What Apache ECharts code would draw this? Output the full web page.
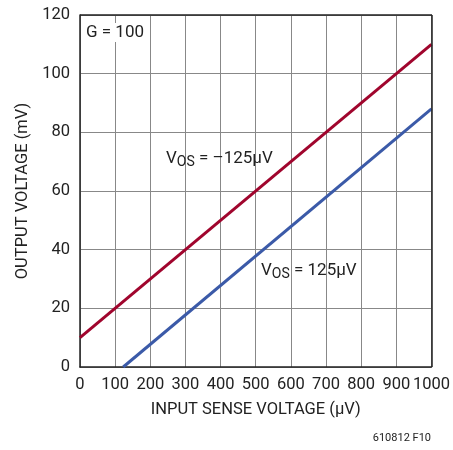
<!DOCTYPE html>
<html><head><meta charset="utf-8">
<script src="https://cdn.jsdelivr.net/npm/echarts@6/dist/echarts.min.js"></script>
<style>html,body{margin:0;padding:0;background:#fff}#c{width:453px;height:450px}</style>
</head><body><div id="c"></div>
<script>
const xTicks = [0,100,200,300,400,500,600,700,800,900,1000];
const yTicks = [0,20,40,60,80,100,120];
const redLine = [[0,10],[1000,110]];
const blueLine = [[123,0],[1000,88]];
const F = '"Liberation Sans Narrow","Roboto",sans-serif';
const chart = echarts.init(document.getElementById('c'));
chart.setOption({
  animation:false,
  grid:{left:80,right:21,top:15,bottom:83},
  xAxis:{type:'value',min:0,max:1000,interval:100,
    name:'INPUT SENSE VOLTAGE (µV)',nameLocation:'middle',nameGap:34,
    nameTextStyle:{fontFamily:F,fontSize:16.5,color:'#222'},
    axisLine:{show:true,lineStyle:{color:'#222',width:1.5}},
    axisTick:{show:false},
    axisLabel:{fontFamily:F,fontSize:16.5,color:'#222',margin:9,formatter:v=>String(v)},
    splitLine:{show:true,lineStyle:{color:'#888',width:1}}},
  yAxis:{type:'value',min:0,max:120,interval:20,
    name:'OUTPUT VOLTAGE (mV)',nameLocation:'middle',nameGap:46,
    nameTextStyle:{fontFamily:F,fontSize:16.5,color:'#222'},
    axisLine:{show:true,lineStyle:{color:'#222',width:1.5}},
    axisTick:{show:false},
    axisLabel:{fontFamily:F,fontSize:16.5,color:'#222',margin:10},
    splitLine:{show:true,lineStyle:{color:'#888',width:1}}},
  graphic:[
    {type:'rect',shape:{x:432,y:15,width:0,height:352},style:{stroke:'#222',lineWidth:1.5,fill:null},z:10},
    {type:'rect',shape:{x:80,y:15,width:352,height:0},style:{stroke:'#222',lineWidth:1.5,fill:null},z:10},
    {type:'text',left:85,top:23,z:20,style:{text:'G = 100',fontFamily:F,fontSize:17,fill:'#222',backgroundColor:'#fff',padding:[1,1]}},
    {type:'text',left:166,top:150,z:20,style:{text:'{a|V}{s|OS}{a| = –125µV}',rich:{a:{fontFamily:F,fontSize:17,fill:'#222'},s:{fontFamily:F,fontSize:14,fill:'#222',padding:[8,0,0,0]}}}},
    {type:'text',left:261,top:262,z:20,style:{text:'{a|V}{s|OS}{a| = 125µV}',rich:{a:{fontFamily:F,fontSize:17,fill:'#222'},s:{fontFamily:F,fontSize:14,fill:'#222',padding:[8,0,0,0]}}}},
    {type:'text',right:22,top:433,style:{text:'610812 F10',fontFamily:F,fontSize:11,fill:'#222'}}
  ],
  series:[
    {type:'line',data:redLine,symbol:'none',lineStyle:{color:'#a0052d',width:3},z:5},
    {type:'line',data:blueLine,symbol:'none',lineStyle:{color:'#3b5aa8',width:3},z:5}
  ]
});
</script></body></html>
